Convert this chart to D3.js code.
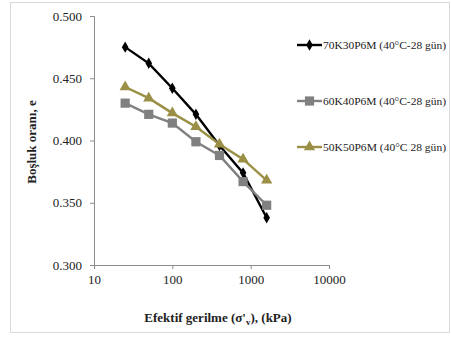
<!DOCTYPE html>
<html>
<head>
<meta charset="utf-8">
<script src="https://cdn.jsdelivr.net/npm/d3@7"></script>
<style>
  html, body { margin: 0; padding: 0; background: #fff; }
  svg { display: block; }
  text { font-family: "Liberation Serif", "Times New Roman", serif; fill: #222; }
</style>
</head>
<body>
<svg id="chart" width="451" height="338"></svg>
<script>
// Effective stress levels (kPa)
const stress = [25, 50, 100, 200, 400, 800, 1600];
// Void ratio per mix
const mix70K30 = [0.475, 0.462, 0.442, 0.421, 0.396, 0.374, 0.338];
const mix60K40 = [0.430, 0.421, 0.414, 0.399, 0.388, 0.367, 0.348];
const mix50K50 = [0.443, 0.434, 0.422, 0.411, 0.397, 0.385, 0.368];
const seriesNames = ["70K30P6M (40°C-28 gün)", "60K40P6M (40°C-28 gün)", "50K50P6M (40°C 28 gün)"];
const xTicks = [10, 100, 1000, 10000];
const yTicks = [0.300, 0.350, 0.400, 0.450, 0.500];

const svg = d3.select("#chart");

// outer frame
svg.append("rect")
  .attr("x", 10.5).attr("y", 2.5).attr("width", 439).attr("height", 330)
  .attr("fill", "none").attr("stroke", "#d9d9d9");

const x = d3.scaleLog().domain([10, 10000]).range([94, 329]);
const y = d3.scaleLinear().domain([0.300, 0.500]).range([265, 16]);

// axes
const xAxis = d3.axisBottom(x).tickValues(xTicks).tickFormat(d3.format("d")).tickSize(4).tickPadding(6);
const yAxis = d3.axisLeft(y).tickValues(yTicks).tickFormat(d3.format(".3f")).tickSize(4).tickPadding(8);

const gx = svg.append("g").attr("transform", "translate(0,265)").call(xAxis);
const gy = svg.append("g").attr("transform", "translate(94,0)").call(yAxis);
[gx, gy].forEach(g => {
  g.select(".domain").attr("stroke", "#8c8c8c").attr("stroke-width", 1);
  g.selectAll(".tick line").attr("stroke", "#8c8c8c");
  g.selectAll(".tick text").attr("font-family", "Liberation Serif, serif").attr("font-size", 13).attr("fill", "#333");
});

const series = [
  { name: seriesNames[0], values: mix70K30, color: "#000000", marker: "diamond" },
  { name: seriesNames[1], values: mix60K40, color: "#808080", marker: "square" },
  { name: seriesNames[2], values: mix50K50, color: "#9a8f45", marker: "triangle" }
];

const symbolType = { diamond: d3.symbolDiamond, square: d3.symbolSquare, triangle: d3.symbolTriangle };
const symbolSize = { diamond: 38, square: 85, triangle: 55 };

const line = d3.line().x(d => x(d[0])).y(d => y(d[1]));

series.forEach(s => {
  const pts = stress.map((v, i) => [v, s.values[i]]);
  svg.append("path").datum(pts)
    .attr("d", line).attr("fill", "none")
    .attr("stroke", s.color).attr("stroke-width", 2.4);
  svg.append("g").selectAll("path").data(pts).join("path")
    .attr("transform", d => `translate(${x(d[0])},${y(d[1])})`)
    .attr("d", d3.symbol(symbolType[s.marker], symbolSize[s.marker]))
    .attr("fill", s.color);
});

// legend
const legendY = [45, 101, 147];
series.forEach((s, i) => {
  const g = svg.append("g").attr("transform", `translate(297,${legendY[i]})`);
  g.append("line").attr("x1", 0).attr("x2", 25).attr("y1", 0).attr("y2", 0)
    .attr("stroke", s.color).attr("stroke-width", 2.4);
  g.append("path").attr("transform", "translate(12.5,0)")
    .attr("d", d3.symbol(symbolType[s.marker], symbolSize[s.marker]))
    .attr("fill", s.color);
  g.append("text").attr("x", 26).attr("y", 4)
    .attr("font-size", 11).attr("textLength", 123).attr("lengthAdjust", "spacingAndGlyphs")
    .text(s.name);
});

// axis titles
svg.append("text")
  .attr("transform", "translate(36,142) rotate(-90)")
  .attr("text-anchor", "middle").attr("font-weight", "bold").attr("font-size", 13)
  .text("Boşluk oranı, e");

const xt = svg.append("text")
  .attr("x", 218).attr("y", 322)
  .attr("text-anchor", "middle").attr("font-weight", "bold").attr("font-size", 13);
xt.append("tspan").text("Efektif gerilme (σ'");
xt.append("tspan").attr("font-size", 9).attr("dy", 3).text("v");
xt.append("tspan").attr("dy", -3).text("),  (kPa)");
</script>
</body>
</html>
